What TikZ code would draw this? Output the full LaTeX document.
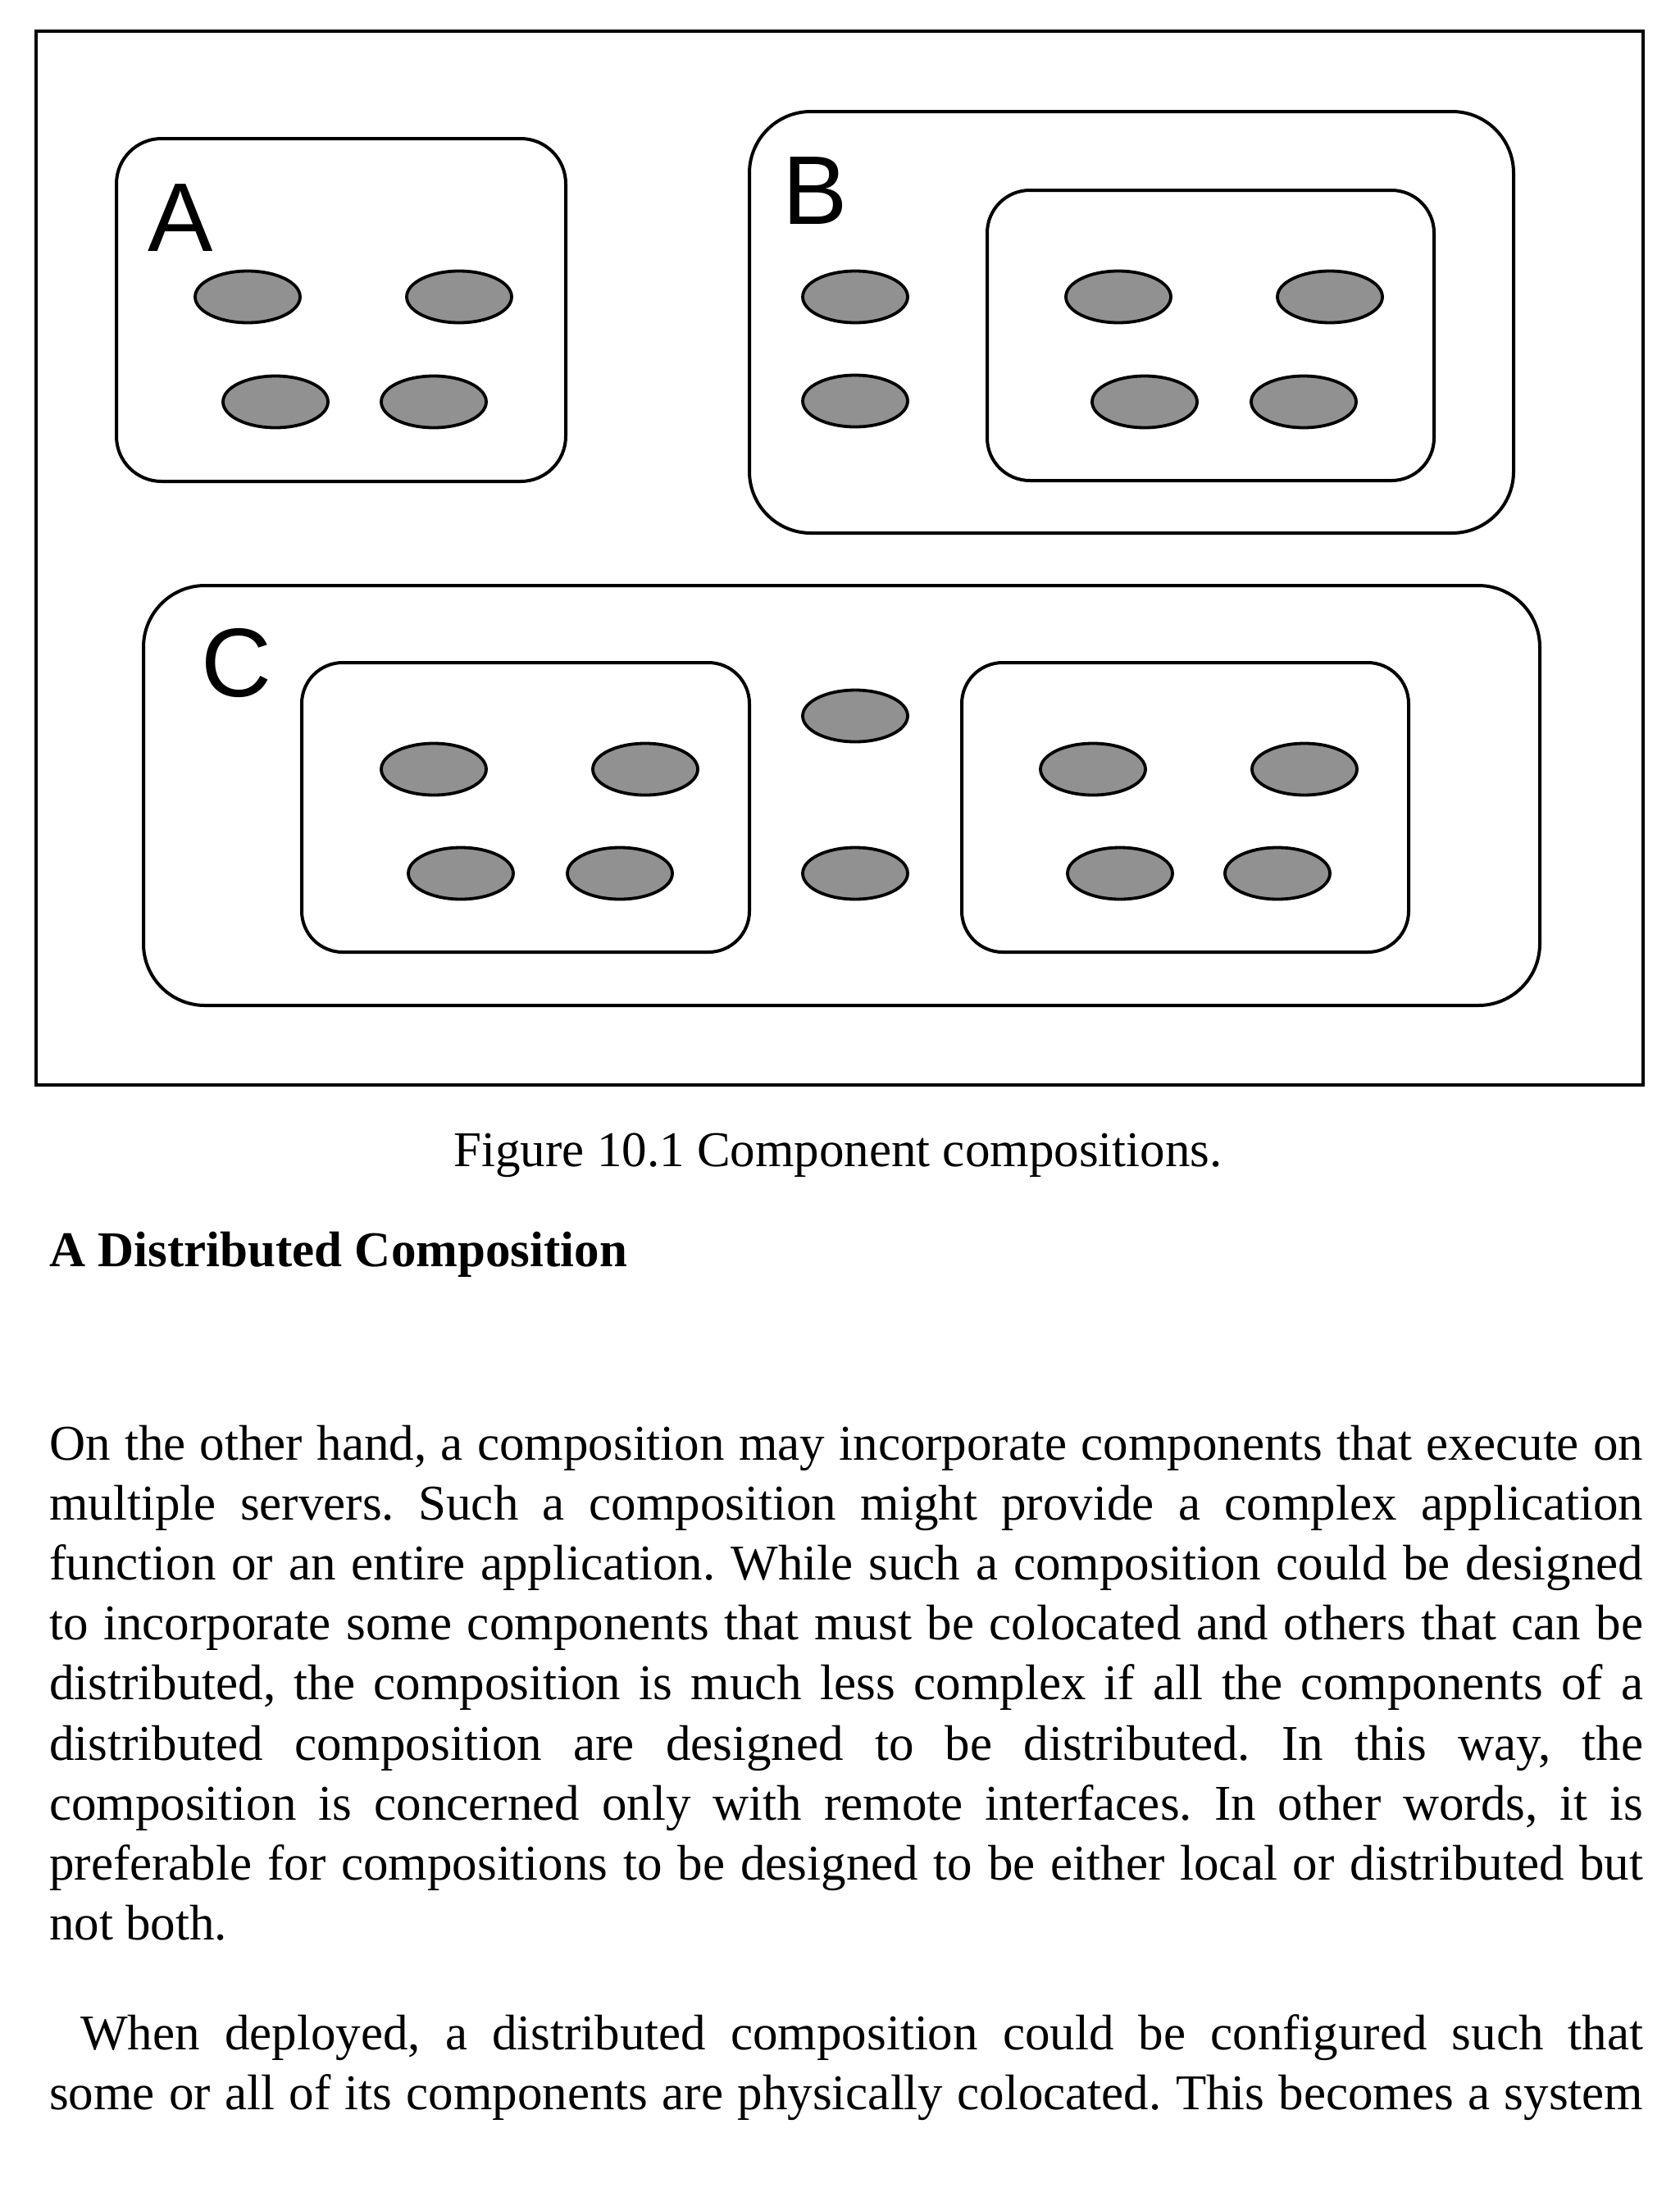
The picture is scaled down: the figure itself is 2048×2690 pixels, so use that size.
\documentclass[tikz,border=0pt]{standalone}
\usepackage{fontspec}
\setmainfont{Liberation Serif}
\newfontfamily\labelfont{Liberation Sans}
\usetikzlibrary{shapes.geometric}
\definecolor{compgray}{RGB}{145,145,145}
\begin{document}
\frenchspacing
\begin{tikzpicture}[x=1pt,y=-1pt,
  frame/.style={draw, line width=4.5pt, inner sep=0pt},
  grp/.style={draw, line width=4pt, rounded corners=#1, inner sep=0pt},
  grp/.default=55pt,
  comp/.style={draw, line width=3.8pt, ellipse, fill=compgray, minimum width=128pt, minimum height=63pt, inner sep=0pt},
  lbl/.style={font=\labelfont\fontsize{119}{119}\selectfont, anchor=base, inner sep=0pt},
  txt/.style={font=\fontsize{61}{73}\selectfont\frenchspacing, anchor=base west, inner sep=0pt},
  capt/.style={font=\fontsize{61}{73}\selectfont, anchor=base, inner sep=0pt},
  head/.style={font=\fontsize{61}{73}\selectfont\bfseries, anchor=base west, inner sep=0pt}
]
\useasboundingbox[fill=white] (0,0) rectangle (2048,2690);

% outer frame
\node[frame, minimum width=1960pt, minimum height=1285pt] (frame) at (1024,680.5) {};

% group A
\node[grp=55pt, minimum width=548pt, minimum height=418pt] (boxA) at (416,378) {};
\node[lbl] (labA) at (220,306) {A};
\node[comp] (a1) at (302,362) {};
\node[comp] (a2) at (560,362) {};
\node[comp] (a3) at (336,490) {};
\node[comp] (a4) at (529,490) {};

% group B
\node[grp=75pt, minimum width=932pt, minimum height=514pt] (boxB) at (1380,393) {};
\node[grp=52pt, minimum width=545pt, minimum height=354pt] (boxBin) at (1476.5,409) {};
\node[lbl] (labB) at (994,273) {B};
\node[comp] (b1) at (1043,362) {};
\node[comp] (b2) at (1043,489) {};
\node[comp] (b3) at (1364,362) {};
\node[comp] (b4) at (1622,362) {};
\node[comp] (b5) at (1396,490) {};
\node[comp] (b6) at (1590,490) {};

% group C
\node[grp=75pt, minimum width=1703pt, minimum height=512pt] (boxC) at (1026.5,970) {};
\node[grp=50pt, minimum width=546pt, minimum height=353pt] (boxCl) at (641,984.5) {};
\node[grp=50pt, minimum width=545pt, minimum height=353pt] (boxCr) at (1445.5,984.5) {};
\node[lbl] (labC) at (288,849) {C};
\node[comp] (c1) at (529,938) {};
\node[comp] (c2) at (787,938) {};
\node[comp] (c3) at (562,1065) {};
\node[comp] (c4) at (756,1065) {};
\node[comp] (c5) at (1043,873) {};
\node[comp] (c6) at (1043,1065) {};
\node[comp] (c7) at (1333,938) {};
\node[comp] (c8) at (1591,938) {};
\node[comp] (c9) at (1366,1065) {};
\node[comp] (c10) at (1558,1065) {};

% caption and heading
\node[capt] (caption) at (1022,1422) {Figure 10.1 Component compositions.};
\node[head] (heading) at (60,1544) {A Distributed Composition};

% paragraph 1
\node[txt] (p1l1) at (60,1780) {\makebox[1944pt][s]{On the other hand, a composition may incorporate components that execute on}};
\node[txt] (p1l2) at (60,1853.2) {\makebox[1944pt][s]{multiple servers. Such a composition might provide a complex application}};
\node[txt] (p1l3) at (60,1926.4) {\makebox[1944pt][s]{function or an entire application. While such a composition could be designed}};
\node[txt] (p1l4) at (60,1999.6) {\makebox[1944pt][s]{to incorporate some components that must be colocated and others that can be}};
\node[txt] (p1l5) at (60,2072.8) {\makebox[1944pt][s]{distributed, the composition is much less complex if all the components of a}};
\node[txt] (p1l6) at (60,2146) {\makebox[1944pt][s]{distributed composition are designed to be distributed. In this way, the}};
\node[txt] (p1l7) at (60,2219.2) {\makebox[1944pt][s]{composition is concerned only with remote interfaces. In other words, it is}};
\node[txt] (p1l8) at (60,2292.4) {\makebox[1944pt][s]{preferable for compositions to be designed to be either local or distributed but}};
\node[txt] (p1l9) at (60,2365.6) {not both.};

% paragraph 2
\node[txt] (p2l1) at (98,2499) {\makebox[1906pt][s]{When deployed, a distributed composition could be configured such that}};
\node[txt] (p2l2) at (60,2572) {\makebox[1944pt][s]{some or all of its components are physically colocated. This becomes a system}};
\end{tikzpicture}
\end{document}
